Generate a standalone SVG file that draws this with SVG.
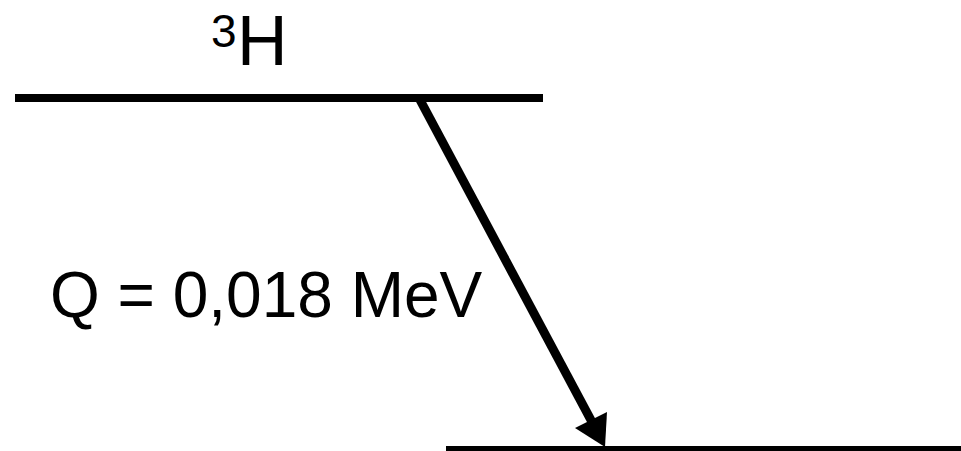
<svg xmlns="http://www.w3.org/2000/svg" width="961" height="451" viewBox="0 0 961 451">
  <style>
    .level { stroke: #000; stroke-width: 8; fill: none; }
    .label { font-family: "Liberation Sans", Arial, sans-serif; fill: #000; }
    .shaft { stroke: #000; stroke-width: 9; fill: none; }
    .head { fill: #000; }
  </style>
  <rect width="961" height="451" fill="#fff"/>

  <!-- parent level: tritium -->
  <g id="level-h3">
    <line class="level" x1="15" y1="98" x2="543" y2="98"/>
    <text class="label" x="211" y="47" font-size="46">3</text>
    <text class="label" x="237" y="65" font-size="70">H</text>
  </g>

  <!-- daughter level -->
  <g id="level-he3">
    <line class="level" x1="446" y1="450" x2="961" y2="450"/>
  </g>

  <!-- decay transition -->
  <g id="connectors">
    <line class="shaft" x1="419" y1="98" x2="592" y2="422"/>
    <polygon class="head" points="607,412 575,428 605,447"/>
  </g>

  <g id="q-value">
    <text class="label" x="50" y="317" font-size="64">Q = 0,018 MeV</text>
  </g>
</svg>
